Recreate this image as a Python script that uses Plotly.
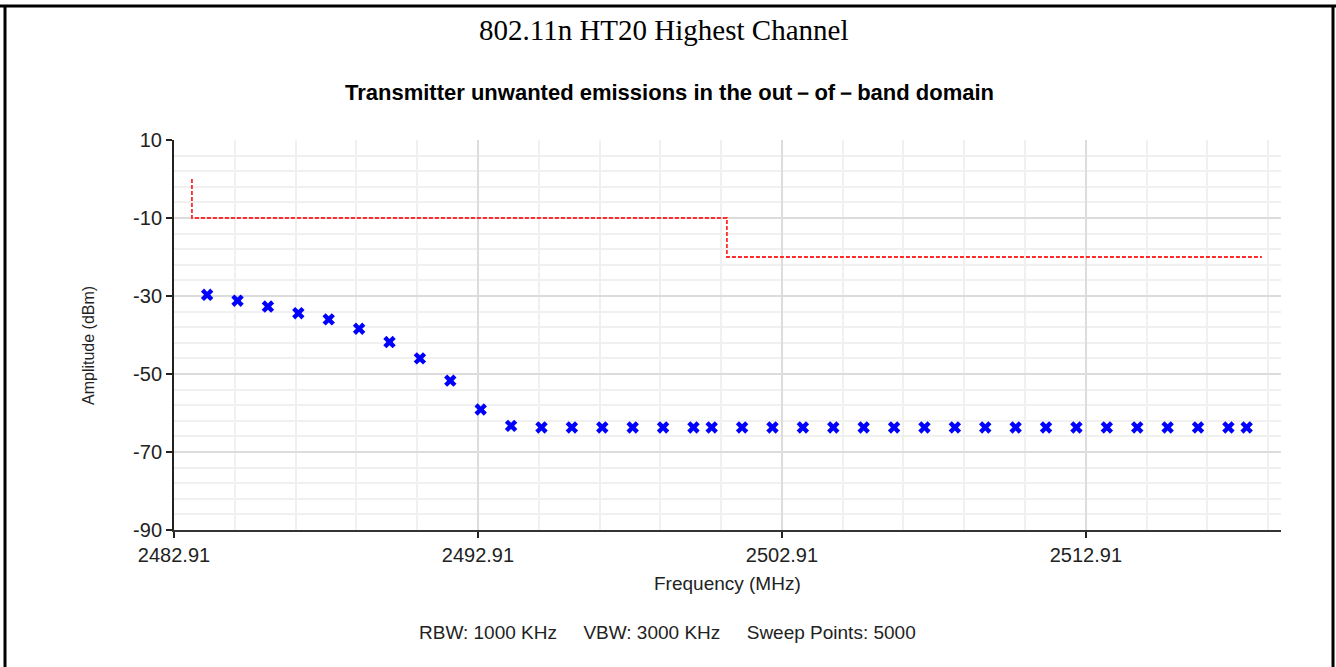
import plotly.graph_objects as go

# Measured emission points (frequency in MHz, amplitude in dBm)
freq_mhz = [2484.0, 2485.0, 2486.0, 2487.0, 2488.0, 2489.0, 2490.0, 2491.0, 2492.0,
            2493.0, 2494.0, 2495.0, 2496.0, 2497.0, 2498.0, 2499.0, 2500.0, 2500.6,
            2501.6, 2502.6, 2503.6, 2504.6, 2505.6, 2506.6, 2507.6, 2508.6, 2509.6,
            2510.6, 2511.6, 2512.6, 2513.6, 2514.6, 2515.6, 2516.6, 2517.6, 2518.2]
amp_dbm = [-29.7, -31.2, -32.7, -34.4, -36.0, -38.4, -41.8, -46.0, -51.7,
           -59.1, -63.3, -63.7, -63.7, -63.7, -63.7, -63.7, -63.7, -63.7,
           -63.7, -63.7, -63.7, -63.7, -63.7, -63.7, -63.7, -63.7, -63.7,
           -63.7, -63.7, -63.7, -63.7, -63.7, -63.7, -63.7, -63.7, -63.7]

# Limit line (stepped)
limit_freq = [2483.5, 2483.5, 2501.1, 2501.1, 2518.7]
limit_dbm = [0, -10, -10, -20, -20]

x_ticks = [2482.91, 2492.91, 2502.91, 2512.91]
y_ticks = [10, -10, -30, -50, -70, -90]

W, H = 1336, 667
L, R, T, B = 174, 55, 140, 137
PW, PH = W - L - R, H - T - B


def px(xp):
    return (xp - L) / PW


def py(yp):
    return (H - B - yp) / PH


fig = go.Figure()

fig.add_trace(go.Scatter(
    x=limit_freq, y=limit_dbm, mode="lines",
    line=dict(color="#ff2a2a", width=1.8, dash="4px,2px"),
    hoverinfo="skip", showlegend=False,
))
fig.add_trace(go.Scatter(
    x=freq_mhz, y=amp_dbm, mode="markers",
    marker=dict(symbol="x", size=11, color="#0000ff", line=dict(width=0)),
    showlegend=False,
))

minor_x = dict(dtick=2, showgrid=True, gridcolor="#f0f0f0", gridwidth=1.5)
minor_y = dict(dtick=4, showgrid=True, gridcolor="#f0f0f0", gridwidth=1.5)

tick_font = dict(family="Liberation Sans, Arial", size=20, color="#222222")

fig.update_xaxes(
    range=[2482.91, 2519.33],
    tickmode="array", tickvals=x_ticks, ticktext=[f"{v:.2f}" for v in x_ticks],
    showgrid=True, gridcolor="#dcdcdc", gridwidth=1.5,
    minor=dict(tick0=2482.91, **minor_x),
    showline=True, linecolor="#333333", linewidth=2,
    ticks="outside", ticklen=6, tickwidth=1.5, tickcolor="#222222",
    tickfont=tick_font,
    zeroline=False,
)
fig.update_yaxes(
    range=[-90, 10],
    tickmode="array", tickvals=y_ticks, ticktext=[str(v) for v in y_ticks],
    showgrid=True, gridcolor="#dcdcdc", gridwidth=1.5,
    minor=dict(tick0=-90, **minor_y),
    showline=True, linecolor="#222222", linewidth=2,
    ticks="outside", ticklen=6, tickwidth=1.5, tickcolor="#222222",
    tickfont=tick_font,
    zeroline=False,
)

annotations = [
    dict(text="802.11n HT20 Highest Channel", x=px(663), y=py(30),
         font=dict(family="Liberation Serif, Times New Roman", size=29, color="#000000")),
    dict(text="<b>Transmitter unwanted emissions in the out－of－band domain</b>",
         x=px(669), y=py(92),
         font=dict(family="Liberation Sans, Arial", size=22, color="#000000")),
    dict(text="Frequency (MHz)", x=px(727), y=py(583),
         font=dict(family="Liberation Sans, Arial", size=19, color="#222222")),
    dict(text="Amplitude (dBm)", x=px(88), y=py(346), textangle=-90,
         font=dict(family="Liberation Sans, Arial", size=16, color="#222222")),
    dict(text="RBW: 1000 KHz&nbsp;&nbsp;&nbsp;&nbsp;&nbsp;VBW: 3000 KHz&nbsp;&nbsp;&nbsp;&nbsp;&nbsp;Sweep Points: 5000",
         x=px(667), y=py(632),
         font=dict(family="Liberation Sans, Arial", size=19, color="#222222")),
]
for a in annotations:
    a.update(xref="paper", yref="paper", showarrow=False, xanchor="center", yanchor="middle")

# Outer frame lines
frame = [
    dict(x0=px(0), x1=px(W), y0=py(6), y1=py(6)),
    dict(x0=px(5), x1=px(5), y0=py(6), y1=py(H + 2)),
    dict(x0=px(1333), x1=px(1333), y0=py(6), y1=py(H + 2)),
]
shapes = [dict(type="line", xref="paper", yref="paper", line=dict(color="#000000", width=3), **f)
          for f in frame]

fig.update_layout(
    width=W, height=H,
    margin=dict(l=L, r=R, t=T, b=B),
    paper_bgcolor="#ffffff", plot_bgcolor="#ffffff",
    annotations=annotations, shapes=shapes,
    showlegend=False,
)

fig.write_html("out.html")
